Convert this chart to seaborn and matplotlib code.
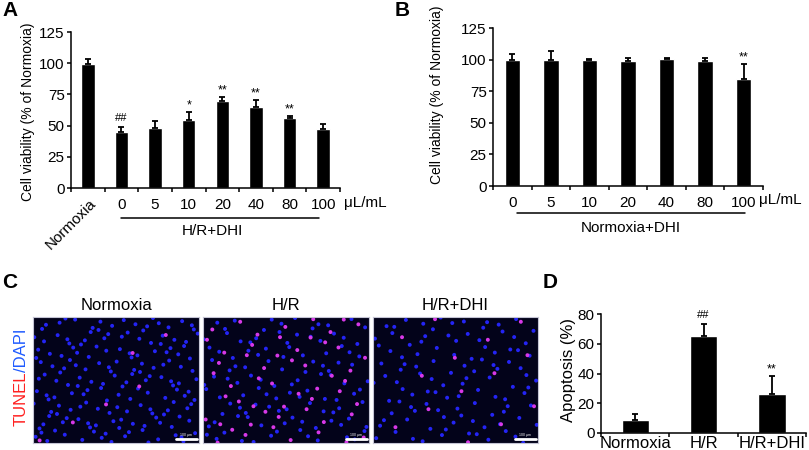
import numpy as np
import pandas as pd
import matplotlib
matplotlib.use("Agg")
import matplotlib.pyplot as plt
import matplotlib.transforms as mtransforms
import seaborn as sns

# ============================================================
# Data
# ============================================================

a_labels = ["Normoxia", "0", "5", "10", "20", "40", "80", "100"]
a_values = [99, 45, 48, 54.5, 69.5, 65, 56, 47.5]
a_errors = [4, 4, 6, 6.5, 3.7, 5.5, 2, 4]
a_marks = ["", "##", "", "*", "**", "**", "**", ""]

b_labels = ["0", "5", "10", "20", "40", "80", "100"]
b_values = [100, 99.5, 99.5, 99.2, 100.2, 98.5, 84.7]
b_errors = [4.2, 7.5, 0.8, 2.2, 0.7, 2.4, 11.5]
b_marks = ["", "", "", "", "", "", "**"]

d_labels = ["Normoxia", "H/R", "H/R+DHI"]
d_values = [9, 65, 26]
d_errors = [3.6, 8.3, 12.4]
d_marks = ["", "##", "**"]

c_titles = ["Normoxia", "H/R", "H/R+DHI"]
c_dapi_counts = [170, 115, 110]
c_tunel_counts = [6, 55, 14]

# ============================================================
# Style
# ============================================================

sns.set_style("ticks")
plt.rcParams["font.family"] = ["Liberation Sans", "DejaVu Sans"]
plt.rcParams.update({
    "axes.edgecolor": "black",
    "axes.linewidth": 1.1,
    "xtick.color": "black",
    "ytick.color": "black",
    "text.color": "black",
    "axes.labelcolor": "black",
})

W, H = 809, 450


def rect(l, t, r, b):
    return [l / W, 1 - b / H, (r - l) / W, (b - t) / H]


def fx(x):
    return x / W


def fy(y):
    return 1 - y / H


fig = plt.figure(figsize=(W / 100, H / 100), dpi=100)


def bar_panel(ax, labels, values, errors, marks, ymax, yticks, tick_fs, xpad):
    df = pd.DataFrame({"group": labels, "value": values})
    n = len(labels)
    sns.barplot(data=df, x="group", y="value", order=labels, color="black",
                saturation=1, width=0.4, errorbar=None, ax=ax)
    ax.errorbar(np.arange(n), values, yerr=[np.zeros(n), errors], fmt="none",
                ecolor="black", elinewidth=1.3, capsize=2.3, capthick=1.3)
    for i, m in enumerate(marks):
        if m:
            off = 4 if "#" in m else 2.5
            ax.annotate(m, (i, values[i] + errors[i]), xytext=(0, off),
                        textcoords="offset points", ha="center",
                        va="baseline", fontsize=8 if "#" in m else 9)
    ax.set_xlim(-0.5, n - 0.5)
    ax.set_ylim(0, ymax)
    ax.set_yticks(yticks)
    ax.set_xticks(np.arange(n))
    ax.set_xticks(np.arange(-0.5, n), minor=True)
    ax.set_xlabel("")
    ax.set_ylabel("")
    ax.tick_params(axis="x", which="major", length=0, pad=xpad,
                   labelsize=tick_fs)
    ax.tick_params(axis="x", which="minor", length=3, width=1.1)
    ax.tick_params(axis="y", length=3, width=1.1, pad=1.5, labelsize=tick_fs)
    sns.despine(ax=ax)


# ============================================================
# Panel A
# ============================================================

ax_a = fig.add_axes(rect(71, 32, 340, 188))
bar_panel(ax_a, a_labels, a_values, a_errors, a_marks, 125,
          [0, 25, 50, 75, 100, 125], 11, 7)
first = ax_a.get_xticklabels()[0]
first.set_rotation(45)
first.set_ha("right")
first.set_va("center")
first.set_rotation_mode("anchor")
first.set_transform(first.get_transform() +
                    mtransforms.ScaledTranslation(0.06, -0.03,
                                                  fig.dpi_scale_trans))

trans_a = mtransforms.blended_transform_factory(ax_a.transData, ax_a.transAxes)
ax_a.plot([1.0, 6.88], [-0.192, -0.192], color="black", lw=1.1,
          transform=trans_a, clip_on=False)
ax_a.text(3.7, -0.276, "H/R+DHI", transform=trans_a, ha="center",
          va="center", fontsize=11)
fig.text(fx(344), fy(203), "μL/mL", ha="left", va="center", fontsize=11)
fig.text(fx(28), fy(112), "Cell viability (% of Normoxia)", rotation=90,
         ha="center", va="center", fontsize=10)

# ============================================================
# Panel B
# ============================================================

ax_b = fig.add_axes(rect(493, 28, 763, 186))
bar_panel(ax_b, b_labels, b_values, b_errors, b_marks, 125,
          [0, 25, 50, 75, 100, 125], 11, 7)
trans_b = mtransforms.blended_transform_factory(ax_b.transData, ax_b.transAxes)
ax_b.plot([0.13, 6.04], [-0.171, -0.171], color="black", lw=1.1,
          transform=trans_b, clip_on=False)
ax_b.text(3.06, -0.266, "Normoxia+DHI", transform=trans_b, ha="center",
          va="center", fontsize=11)
fig.text(fx(759), fy(200), "μL/mL", ha="left", va="center", fontsize=11)
fig.text(fx(437), fy(95), "Cell viability (% of Normoxia)", rotation=90,
         ha="center", va="center", fontsize=10)

# ============================================================
# Panel C (TUNEL / DAPI images)
# ============================================================


def halton(n, base, skip):
    out = []
    for i in range(skip, skip + n):
        f, r, k = 1.0, 0.0, i
        while k > 0:
            f /= base
            r += f * (k % base)
            k //= base
        out.append(r)
    return np.array(out)


c_boxes = [(33, 199), (203, 369), (373, 538)]
for j, (l, r) in enumerate(c_boxes):
    ax = fig.add_axes(rect(l, 317, r, 443))
    ax.set_facecolor("#03031a")
    nb = c_dapi_counts[j]
    nt = c_tunel_counts[j]
    bx = halton(nb, 2, 7 + 53 * j)
    by = halton(nb, 3, 11 + 97 * j)
    ax.scatter(bx, by, s=8, color="#2424f5", edgecolors="none")
    tx = halton(nt, 5, 3 + 29 * j)
    ty = halton(nt, 7, 5 + 41 * j)
    ax.scatter(tx, ty, s=8, color="#d838e8", edgecolors="none")
    ax.plot([0.86, 0.985], [0.03, 0.03], color="white", lw=2,
            transform=ax.transAxes)
    ax.text(0.922, 0.05, "100 μm", color="white", fontsize=2.5,
            ha="center", va="bottom", transform=ax.transAxes)
    ax.set_xlim(0, 1)
    ax.set_ylim(0, 1)
    ax.set_xticks([])
    ax.set_yticks([])
    for s in ax.spines.values():
        s.set_color("#c4c4d4")
        s.set_linewidth(0.8)
    fig.text(fx((l + r) / 2), fy(305), c_titles[j], ha="center",
             va="center", fontsize=12)

fig.text(fx(21), fy(372), "TUNEL", color="#ff2020", rotation=90,
         rotation_mode="anchor", ha="right", va="center", fontsize=12)
fig.text(fx(21), fy(372), "/DAPI", color="#1f5bff", rotation=90,
         rotation_mode="anchor", ha="left", va="center", fontsize=12)

# ============================================================
# Panel D
# ============================================================

ax_d = fig.add_axes(rect(601, 314, 806, 433))
bar_panel(ax_d, d_labels, d_values, d_errors, d_marks, 80,
          [0, 20, 40, 60, 80], 11, 2.5)
ax_d.tick_params(axis="x", which="major", labelsize=12)
fig.text(fx(569), fy(370), "Apoptosis (%)", rotation=90, ha="center",
         va="center", fontsize=12)

# ============================================================
# Panel letters
# ============================================================

for letter, (x, y) in zip("ABCD", [(10, 11), (402, 11), (10, 282), (550, 283)]):
    fig.text(fx(x), fy(y), letter, ha="center", va="center",
             fontsize=15, fontweight="bold")

fig.savefig("out.png", dpi=100)
